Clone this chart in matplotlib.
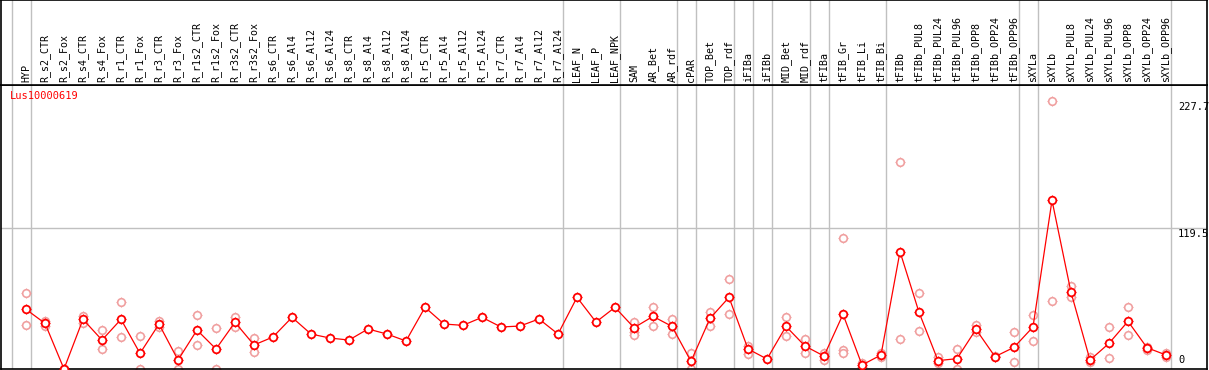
import numpy as np
import matplotlib
matplotlib.use("Agg")
import matplotlib.pyplot as plt

# sample names (column headers)
samples = ["HYP", "R_s2_CTR", "R_s2_Fox", "R_s4_CTR", "R_s4_Fox", "R_r1_CTR", "R_r1_Fox",
           "R_r3_CTR", "R_r3_Fox", "R_r1s2_CTR", "R_r1s2_Fox", "R_r3s2_CTR", "R_r3s2_Fox",
           "R_s6_CTR", "R_s6_Al4", "R_s6_Al12", "R_s6_Al24", "R_s8_CTR", "R_s8_Al4",
           "R_s8_Al12", "R_s8_Al24", "R_r5_CTR", "R_r5_Al4", "R_r5_Al12", "R_r5_Al24",
           "R_r7_CTR", "R_r7_Al4", "R_r7_Al12", "R_r7_Al24", "LEAF_N", "LEAF_P", "LEAF_NPK",
           "SAM", "AR_Bet", "AR_rdf", "cPAR", "TOP_Bet", "TOP_rdf", "iFIBa", "iFIBb",
           "MID_Bet", "MID_rdf", "tFIBa", "tFIB_Gr", "tFIB_Li", "tFIB_Bi", "tFIBb",
           "tFIBb_PUL8", "tFIBb_PUL24", "tFIBb_PUL96", "tFIBb_OPP8", "tFIBb_OPP24",
           "tFIBb_OPP96", "sXYLa", "sXYLb", "sXYLb_PUL8", "sXYLb_PUL24", "sXYLb_PUL96",
           "sXYLb_OPP8", "sXYLb_OPP24", "sXYLb_OPP96"]

# mean expression per sample
means = [50.7, 38.8, 0.0, 42.2, 24.6, 42.2, 13.3, 38.2, 7.6, 33.1, 17.0, 39.7, 20.4,
         27.2, 43.9, 29.7, 26.3, 24.6, 34.0, 29.7, 23.8, 52.4, 38.2, 37.1, 43.9,
         35.7, 36.5, 42.5, 29.7, 60.9, 39.9, 52.4,
         35.1, 44.7, 36.2, 6.5, 43.0, 60.9, 17.0, 8.5,
         36.2, 19.5, 11.0, 46.5, 3.4, 11.9, 99.7,
         48.2, 7.1, 8.8, 33.7, 10.5, 18.4,
         35.7, 143.3, 65.2, 7.6, 21.8, 40.5, 18.1, 11.9]

# individual replicates (empty where hidden under the mean)
replicates = [[64.3, 37.4], [41.0, 36.5], [0.0, 0.0], [45.3, 39.4], [32.9, 16.7],
              [56.6, 26.9], [27.8, 0.0], [41.0, 36.0], [15.3, 0.0], [45.6, 20.1],
              [34.8, 0.0], [44.0, 35.4], [26.3, 14.2],
              [], [], [], [], [], [], [], [], [], [], [], [], [], [], [], [], [], [], [],
              [39.6, 31.5, 29.0], [52.4, 36.2], [42.5, 29.5], [13.3, 0.0], [48.4, 36.8],
              [76.2, 46.5], [19.5, 12.7], [],
              [43.9, 27.8], [25.5, 13.3], [13.9, 7.6], [111.0, 16.1, 13.9], [5.0, 2.0],
              [13.9, 10.0], [175.6, 25.5],
              [64.3, 32.0], [10.5, 4.8], [17.0, 0.0], [37.4, 31.7], [11.0, 10.0],
              [31.2, 5.7],
              [45.6, 23.5], [227.7, 57.5], [70.5, 61.0], [10.5, 6.0], [35.4, 9.3],
              [52.4, 28.6], [19.0, 16.4], [14.0, 10.0]]

# group separators sit just right of these columns
separators = [-1, 0, 28, 31, 34, 35, 37, 38, 39, 41, 42, 45, 52, 53, 60]
y_ticks = [227.7, 119.5, 0]
gene = "Lus10000619"

W, H = 1209, 370
fig = plt.figure(figsize=(W / 100, H / 100), dpi=100)
fig.patch.set_facecolor("white")

# pixel geometry
x0_px, x1_px = 1, 1207
col0, step = 26, 19
xlo = (x0_px - col0) / step
xhi = (x1_px - col0) / step
ymax = 241.3
mono = "DejaVu Sans Mono"
grey = "#c0c0c0"

ax = fig.add_axes([x0_px / W, 1 - 369 / H, (x1_px - x0_px) / W, (369 - 85) / H])
hdr = fig.add_axes([x0_px / W, 1 - 85 / H, (x1_px - x0_px) / W, 85 / H])

for a in (ax, hdr):
    a.set_xlim(xlo, xhi)
    a.set_xticks([])
    a.set_yticks([])
    for s in a.spines.values():
        s.set_color("black")
        s.set_linewidth(1.2)
    for sep in separators:
        a.axvline(sep + 0.25, color=grey, lw=1, zorder=0)

hdr.set_ylim(0, 1)
for i, name in enumerate(samples):
    hdr.text(i, 0.03, name, rotation=90, ha="center", va="bottom",
             fontsize=7.2, family=mono, color="black")

ax.set_ylim(0, ymax)
ax.axhline(119.5, color=grey, lw=1, zorder=0)

# replicates
xs = np.arange(len(samples))
for i, reps in enumerate(replicates):
    if reps:
        rx = np.full(len(reps), i)
        ax.plot(rx, reps, ls="none", marker="+", ms=7.3, mew=0.7, color="#f0a0a0",
                zorder=2, clip_on=False)
        ax.plot(rx, reps, ls="none", marker="o", ms=5.5, mew=1.2, mfc="white",
                mec="#f0a0a0", zorder=2, clip_on=False)

# mean profile
ax.plot(xs, means, color="red", lw=0.9, zorder=3)
ax.plot(xs, means, ls="none", marker="+", ms=7.3, mew=0.7, color="red", zorder=4,
        clip_on=False)
ax.plot(xs, means, ls="none", marker="o", ms=5.5, mew=1.3, mfc="white", mec="red",
        zorder=5, clip_on=False)

# value labels on the right
lab_x = (1178 - col0) / step
ax.text(lab_x, y_ticks[0] - 1, "227.7", ha="left", va="top", fontsize=7.5, family=mono)
ax.text(lab_x, y_ticks[1] - 0.5, "119.5", ha="left", va="top", fontsize=7.5, family=mono)
ax.text(lab_x, y_ticks[2] + 3, "0", ha="left", va="bottom", fontsize=7.5, family=mono)

ax.text(9 / (x1_px - x0_px), 1 - 6 / 284, gene, transform=ax.transAxes,
        ha="left", va="top", fontsize=7.5, family=mono, color="red")

fig.savefig("out.png", dpi=100)
